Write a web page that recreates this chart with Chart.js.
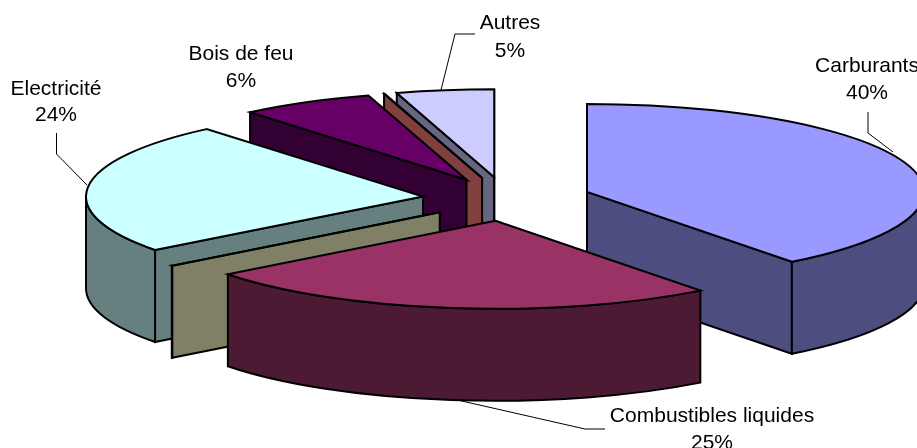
<!DOCTYPE html>
<html>
<head>
<meta charset="utf-8">
<title>Consommation finale</title>
<script src="https://cdn.jsdelivr.net/npm/chart.js@4"></script>
<style>
  html, body { margin: 0; padding: 0; background: #fff; }
  canvas { display: block; }
</style>
</head>
<body>
<canvas id="myChart" width="917" height="448"></canvas>
<script>
'use strict';

// the two empty names are the unlabelled slivers of the picture
const categories = ['Carburants', 'Combustibles liquides', '', 'Electricité', 'Bois de feu', '', 'Autres'];
const shares = [39.6, 25, 0.03, 24.27, 6.4, 0.03, 4.67];

const topColors = ['#9999FF', '#993366', '#FFFFCC', '#CCFFFF', '#660066', '#FF8080', '#CCCCFF'];
const wallColors = ['#4D4D80', '#4D1A33', '#808066', '#668080', '#330033', '#804040', '#666680'];

// where the labels sit on the page: category -> [centre x, first line y, second line y]
const labelSpots = {
  'Carburants': [867, 72, 99],
  'Combustibles liquides': [712, 422, 449],
  'Electricité': [56, 95, 121],
  'Bois de feu': [241, 60, 87],
  'Autres': [510, 29, 57]
};

const leaderLines = [
  [[868, 112], [868, 133], [893, 152]],
  [[605, 429], [585, 429], [453, 399]],
  [[56.5, 133], [56.5, 154], [87, 185]],
  [[475, 34], [455, 34], [441, 90]]
];

const tilt = 88 / 337;
const depth = 92;

const drawSlice = function(ctx, arc, wallColor) {
  const o = arc.options;
  const a0 = arc.startAngle;
  const a1 = arc.endAngle;
  const mid = (a0 + a1) / 2;
  const r = arc.outerRadius;
  const cx = arc.x + Math.cos(mid) * o.offset / 4;
  const cy = arc.y + Math.sin(mid) * o.offset / 4 * tilt;

  const paint = function(color) {
    ctx.fillStyle = color;
    ctx.fill();
    ctx.stroke();
  };

  ctx.lineWidth = o.borderWidth;
  ctx.strokeStyle = o.borderColor;
  ctx.lineJoin = 'miter';

  // flat walls along the two cut edges, only when they face the viewer
  [[a0, a0 - Math.PI / 2], [a1, a1 + Math.PI / 2]].forEach(function(edge) {
    if (Math.sin(edge[1]) < -1e-6) return;
    const rimX = cx + Math.cos(edge[0]) * r;
    const rimY = cy + Math.sin(edge[0]) * r * tilt;
    ctx.beginPath();
    ctx.moveTo(cx, cy);
    ctx.lineTo(rimX, rimY);
    ctx.lineTo(rimX, rimY + depth);
    ctx.lineTo(cx, cy + depth);
    ctx.closePath();
    paint(wallColor);
  });

  // curved wall: the part of the rim on the front half of the ellipse
  for (let turn = -1; turn <= 1; turn++) {
    const from = Math.max(a0, turn * 2 * Math.PI);
    const to = Math.min(a1, turn * 2 * Math.PI + Math.PI);
    if (to <= from) continue;
    ctx.beginPath();
    ctx.ellipse(cx, cy, r, r * tilt, 0, from, to);
    ctx.ellipse(cx, cy + depth, r, r * tilt, 0, to, from, true);
    ctx.closePath();
    paint(wallColor);
  }

  // top face
  ctx.beginPath();
  ctx.moveTo(cx, cy);
  ctx.ellipse(cx, cy, r, r * tilt, 0, a0, a1);
  ctx.closePath();
  paint(o.backgroundColor);
};

const tiltedPie = {
  id: 'tiltedPie',
  beforeDatasetDraw: function(chart, args) {
    const ctx = chart.ctx;
    const order = args.meta.data.map(function(arc, i) { return i; });
    const depthOf = function(i) {
      const arc = args.meta.data[i];
      return Math.sin((arc.startAngle + arc.endAngle) / 2);
    };

    // back to front
    order.sort(function(a, b) { return depthOf(a) - depthOf(b); });

    ctx.save();
    for (let i of order) {
      drawSlice(ctx, args.meta.data[i], wallColors[i]);
    }
    ctx.restore();
    return false;
  },
  afterDatasetsDraw: function(chart) {
    const ctx = chart.ctx;
    const total = shares.reduce(function(sum, v) { return sum + v; }, 0);

    ctx.save();
    ctx.strokeStyle = '#000';
    ctx.lineWidth = 1;
    for (let line of leaderLines) {
      ctx.beginPath();
      line.forEach(function(p, i) {
        if (i === 0) ctx.moveTo(p[0], p[1]);
        else ctx.lineTo(p[0], p[1]);
      });
      ctx.stroke();
    }

    ctx.fillStyle = '#000';
    ctx.font = '21px "Liberation Sans", Arial, sans-serif';
    ctx.textAlign = 'center';
    categories.forEach(function(name, i) {
      if (!name) return;
      const spot = labelSpots[name];
      ctx.fillText(name, spot[0], spot[1]);
      ctx.fillText(Math.round(shares[i] / total * 100) + '%', spot[0], spot[2]);
    });
    ctx.restore();
  }
};

new Chart(document.getElementById('myChart').getContext('2d'), {
  type: 'pie',
  data: {
    labels: categories,
    datasets: [{
      data: shares,
      backgroundColor: topColors,
      borderColor: '#000',
      borderWidth: 2,
      offset: [340, 336, 336, 336, 336, 336, 336]
    }]
  },
  options: {
    responsive: false,
    animation: false,
    radius: 337,
    rotation: 0,
    layout: { padding: { left: 96, bottom: 50 } },
    plugins: { legend: { display: false }, tooltip: { enabled: false } }
  },
  plugins: [tiltedPie]
});
</script>
</body>
</html>
